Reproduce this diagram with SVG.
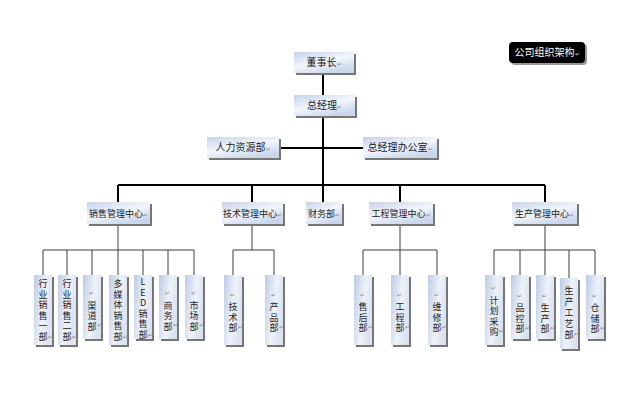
<svg xmlns="http://www.w3.org/2000/svg" width="632" height="420" viewBox="0 0 632 420">
<defs>
<linearGradient id="gh" x1="0" y1="0" x2="0.6" y2="1">
<stop offset="0" stop-color="#c4d3ea"/>
<stop offset="0.55" stop-color="#f3f6fb"/>
<stop offset="1" stop-color="#c9d6ec"/>
</linearGradient>
<linearGradient id="gv" x1="0" y1="0" x2="1" y2="0.4">
<stop offset="0" stop-color="#bccbe4"/>
<stop offset="0.6" stop-color="#eef2f9"/>
<stop offset="1" stop-color="#dbe3f0"/>
</linearGradient>
</defs>
<style>
.sh{fill:#767676}
.bh{fill:url(#gh)}
.bv{fill:url(#gv)}
.t{font-family:"Noto Sans CJK SC","Liberation Sans",sans-serif;font-size:10px;fill:#1a1a1a;text-anchor:middle}
.t2{font-family:"Noto Sans CJK SC","Liberation Sans",sans-serif;font-size:9px;fill:#1a1a1a;text-anchor:middle}
.vt{font-family:"Noto Sans CJK SC","Liberation Sans",sans-serif;font-size:9px;fill:#1a1a1a;writing-mode:vertical-rl;text-orientation:upright;letter-spacing:1.5px}
.ret{font-family:"Noto Sans CJK SC","Liberation Sans",sans-serif;font-size:6px;fill:#8a8a8a}
.r{font-size:6px;fill:#8a8a8a}
.main{stroke:#000;stroke-width:2;fill:none}
.sub{stroke:#3c3c3c;stroke-width:1;fill:none}
</style>
<rect width="632" height="420" fill="#fff"/>
<g id="connectors">
<path class="main" d="M323 73V185M279 148H363M118 185H545M118 185V202M252 185V202M323 185V202M400 185V202M545 185V202"/>
<path class="sub" d="M118 224V250M43 250H194M43 250V275M67 250V275M92 250V275M118 250V275M143 250V275M168 250V275M194 250V275"/>
<path class="sub" d="M252 224V250M233 250H274M233 250V275M274 250V275"/>
<path class="sub" d="M400 224V250M363 250H437M363 250V275M400 250V275M437 250V275"/>
<path class="sub" d="M545 224V250M494 250H595M494 250V275M520 250V275M545 250V275M569 250V278M595 250V275"/>
</g>
<g id="title">
<rect x="511" y="44" width="76" height="21" rx="4" fill="#9a9a9a"/>
<rect x="509" y="42" width="76" height="21" rx="4" fill="#000"/>
<text class="t" x="547" y="56" style="fill:#fff">公司组织架构<tspan class="r" style="fill:#ccc">↵</tspan></text>
</g>
<g id="n-dongshizhang">
<rect class="sh" x="296" y="54" width="60" height="21"/>
<rect class="bh" x="294" y="52" width="60" height="21"/>
<text class="t" x="324" y="66">董事长<tspan class="r">↵</tspan></text>
</g>
<g id="n-zongjingli">
<rect class="sh" x="296" y="97" width="61" height="21"/>
<rect class="bh" x="294" y="95" width="61" height="21"/>
<text class="t" x="324.5" y="109">总经理<tspan class="r">↵</tspan></text>
</g>
<g id="n-renli">
<rect class="sh" x="209" y="139" width="72" height="21"/>
<rect class="bh" x="207" y="137" width="72" height="21"/>
<text class="t" x="243" y="151">人力资源部<tspan class="r">↵</tspan></text>
</g>
<g id="n-bangongshi">
<rect class="sh" x="365" y="139" width="74" height="21"/>
<rect class="bh" x="363" y="137" width="74" height="21"/>
<text class="t" x="400" y="151">总经理办公室<tspan class="r">↵</tspan></text>
</g>
<g id="n-xiaoshou">
<rect class="sh" x="89" y="204" width="63" height="22"/>
<rect class="bh" x="87" y="202" width="63" height="22"/>
<text class="t2" x="118.5" y="216.5">销售管理中心<tspan class="r">↵</tspan></text>
</g>
<g id="n-jishu">
<rect class="sh" x="224" y="204" width="61" height="22"/>
<rect class="bh" x="222" y="202" width="61" height="22"/>
<text class="t2" x="252.5" y="216.5">技术管理中心<tspan class="r">↵</tspan></text>
</g>
<g id="n-caiwu">
<rect class="sh" x="308" y="204" width="36" height="22"/>
<rect class="bh" x="306" y="202" width="36" height="22"/>
<text class="t2" x="324" y="216.5">财务部<tspan class="r">↵</tspan></text>
</g>
<g id="n-gongcheng">
<rect class="sh" x="371" y="204" width="64" height="22"/>
<rect class="bh" x="369" y="202" width="64" height="22"/>
<text class="t2" x="401" y="216.5">工程管理中心<tspan class="r">↵</tspan></text>
</g>
<g id="n-shengchan">
<rect class="sh" x="514" y="204" width="65" height="22"/>
<rect class="bh" x="512" y="202" width="65" height="22"/>
<text class="t2" x="544.5" y="216.5">生产管理中心<tspan class="r">↵</tspan></text>
</g>
<g id="n-hangye1">
<rect class="sh" x="36" y="277" width="18" height="70"/>
<rect class="bv" x="34" y="275" width="18" height="70"/>
<text class="vt" x="43" y="279.5">行业销售一部</text>
<text class="ret" x="48" y="338.5">↵</text>
</g>
<g id="n-hangye2">
<rect class="sh" x="60" y="277" width="18" height="70"/>
<rect class="bv" x="58" y="275" width="18" height="70"/>
<text class="vt" x="67" y="279.5">行业销售二部</text>
<text class="ret" x="72" y="338.5">↵</text>
</g>
<g id="n-qudao">
<rect class="sh" x="85" y="277" width="18" height="64"/>
<rect class="bv" x="83" y="275" width="18" height="64"/>
<text class="vt" x="92" y="289"><tspan class="r">↵</tspan><tspan dy="3">渠道部</tspan></text>
<text class="ret" x="97" y="327">↵</text>
</g>
<g id="n-duomeiti">
<rect class="sh" x="111" y="277" width="18" height="70"/>
<rect class="bv" x="109" y="275" width="18" height="70"/>
<text class="vt" x="118" y="279.5">多媒体销售部</text>
<text class="ret" x="123" y="338.5">↵</text>
</g>
<g id="n-led">
<rect class="sh" x="136" y="277" width="18" height="64"/>
<rect class="bv" x="134" y="275" width="18" height="64"/>
<text class="vt" x="143" y="277.5">LED销售部</text>
<text class="ret" x="148" y="336.5">↵</text>
</g>
<g id="n-shangwu">
<rect class="sh" x="161" y="277" width="18" height="64"/>
<rect class="bv" x="159" y="275" width="18" height="64"/>
<text class="vt" x="168" y="289"><tspan class="r">↵</tspan><tspan dy="3">商务部</tspan></text>
<text class="ret" x="173" y="327">↵</text>
</g>
<g id="n-shichang">
<rect class="sh" x="187" y="277" width="18" height="64"/>
<rect class="bv" x="185" y="275" width="18" height="64"/>
<text class="vt" x="194" y="289"><tspan class="r">↵</tspan><tspan dy="3">市场部</tspan></text>
<text class="ret" x="199" y="327">↵</text>
</g>
<g id="n-jishubu">
<rect class="sh" x="226" y="277" width="18" height="70"/>
<rect class="bv" x="224" y="275" width="18" height="70"/>
<text class="vt" x="233" y="290.5"><tspan class="r">↵</tspan><tspan dy="3">技术部</tspan></text>
<text class="ret" x="238" y="328.5">↵</text>
</g>
<g id="n-chanpin">
<rect class="sh" x="267" y="277" width="18" height="70"/>
<rect class="bv" x="265" y="275" width="18" height="70"/>
<text class="vt" x="274" y="290.5"><tspan class="r">↵</tspan><tspan dy="3">产品部</tspan></text>
<text class="ret" x="279" y="328.5">↵</text>
</g>
<g id="n-shouhou">
<rect class="sh" x="356" y="277" width="18" height="70"/>
<rect class="bv" x="354" y="275" width="18" height="70"/>
<text class="vt" x="363" y="290.5"><tspan class="r">↵</tspan><tspan dy="3">售后部</tspan></text>
<text class="ret" x="368" y="328.5">↵</text>
</g>
<g id="n-gongchengbu">
<rect class="sh" x="393" y="277" width="18" height="70"/>
<rect class="bv" x="391" y="275" width="18" height="70"/>
<text class="vt" x="400" y="290.5"><tspan class="r">↵</tspan><tspan dy="3">工程部</tspan></text>
<text class="ret" x="405" y="328.5">↵</text>
</g>
<g id="n-weixiu">
<rect class="sh" x="430" y="277" width="18" height="70"/>
<rect class="bv" x="428" y="275" width="18" height="70"/>
<text class="vt" x="437" y="290.5"><tspan class="r">↵</tspan><tspan dy="3">维修部</tspan></text>
<text class="ret" x="442" y="328.5">↵</text>
</g>
<g id="n-jihua">
<rect class="sh" x="487" y="277" width="18" height="70"/>
<rect class="bv" x="485" y="275" width="18" height="70"/>
<text class="vt" x="494" y="284"><tspan class="r">↵</tspan><tspan dy="3">计划采购</tspan></text>
<text class="ret" x="499" y="332.5">↵</text>
</g>
<g id="n-pinkong">
<rect class="sh" x="513" y="277" width="18" height="64"/>
<rect class="bv" x="511" y="275" width="18" height="64"/>
<text class="vt" x="520" y="291.5"><tspan class="r">↵</tspan><tspan dy="3">品控部</tspan></text>
<text class="ret" x="525" y="329.5">↵</text>
</g>
<g id="n-shengchanbu">
<rect class="sh" x="538" y="277" width="18" height="64"/>
<rect class="bv" x="536" y="275" width="18" height="64"/>
<text class="vt" x="545" y="291.5"><tspan class="r">↵</tspan><tspan dy="3">生产部</tspan></text>
<text class="ret" x="550" y="329.5">↵</text>
</g>
<g id="n-gongyi">
<rect class="sh" x="562" y="280" width="18" height="71"/>
<rect class="bv" x="560" y="278" width="18" height="71"/>
<text class="vt" x="569" y="286.5" style="letter-spacing:1.8px">生产工艺部</text>
<text class="ret" x="574" y="336">↵</text>
</g>
<g id="n-cangchu">
<rect class="sh" x="588" y="277" width="18" height="64"/>
<rect class="bv" x="586" y="275" width="18" height="64"/>
<text class="vt" x="595" y="291.5"><tspan class="r">↵</tspan><tspan dy="3">仓储部</tspan></text>
<text class="ret" x="600" y="329.5">↵</text>
</g>
</svg>
